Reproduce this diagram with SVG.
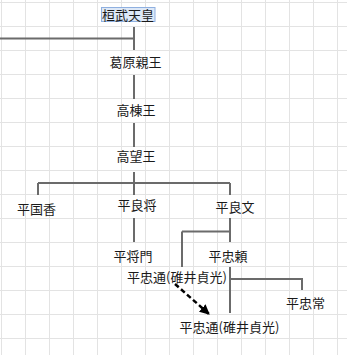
<svg xmlns="http://www.w3.org/2000/svg" width="347" height="355" viewBox="0 0 347 355">
<defs>
<pattern id="grid" x="1" y="2" width="24" height="24" patternUnits="userSpaceOnUse">
<path d="M0.5,0 V24 M0,0.5 H24" fill="none" stroke="#e3e3e3" stroke-width="1"/>
</pattern>
<marker id="arr" viewBox="0 0 10 10" refX="9" refY="5" markerWidth="4" markerHeight="4" orient="auto" markerUnits="strokeWidth">
<path d="M0,0 L10,5 L0,10 Z" fill="#000"/>
</marker>
</defs>
<style>
.lbl{font-family:"Noto Sans CJK JP","Noto Sans CJK SC",sans-serif;font-size:13px;fill:#1a1a1a;text-anchor:middle}
.ln{fill:none;stroke:#6b6b6b;stroke-width:2}
.dash{fill:none;stroke:#000;stroke-width:2.5;stroke-dasharray:5 3}
</style>
<rect width="347" height="355" fill="#fff"/>
<rect width="347" height="355" fill="url(#grid)"/>
<g id="connectors">
<path class="ln" d="M134,27 V50 M0,38.5 H134"/>
<path class="ln" d="M134,75 V99"/>
<path class="ln" d="M134,123 V147"/>
<path class="ln" d="M134,172 V195 M38,183 H230 M38,183 V195 M230,183 V195"/>
<path class="ln" d="M134,218 V242"/>
<path class="ln" d="M230,218 V242 M182,231.5 H230 M182,231.5 V267"/>
<path class="ln" d="M230,267 V313 M230,279 H302 V290"/>
<path class="dash" d="M175,284 L209,314" marker-end="url(#arr)"/>
</g>
<g id="n1"><rect x="101.5" y="7.5" width="53.5" height="14" fill="#dde8f7" stroke="#8fb0e0" stroke-width="1"/><text class="lbl" x="128" y="19.5">桓武天皇</text></g>
<g id="n2"><text class="lbl" x="135.5" y="66.5">葛原親王</text></g>
<g id="n3"><text class="lbl" x="136" y="114.5">高棟王</text></g>
<g id="n4"><text class="lbl" x="136" y="161">高望王</text></g>
<g id="n5"><text class="lbl" x="36.5" y="213.5">平国香</text></g>
<g id="n6"><text class="lbl" x="137" y="210">平良将</text></g>
<g id="n7"><text class="lbl" x="235" y="211.5">平良文</text></g>
<g id="n8"><text class="lbl" x="133" y="261">平将門</text></g>
<g id="n9"><text class="lbl" x="228" y="261">平忠頼</text></g>
<g id="n10"><text class="lbl" x="177" y="282">平忠通(碓井貞光)</text></g>
<g id="n11"><text class="lbl" x="305.5" y="308">平忠常</text></g>
<g id="n12"><text class="lbl" x="229.5" y="332">平忠通(碓井貞光)</text></g>
</svg>
